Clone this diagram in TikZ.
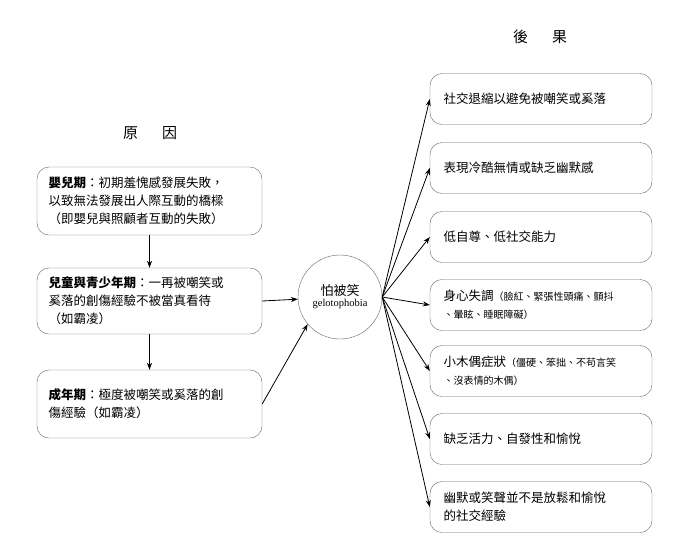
\documentclass[tikz,border=0pt]{standalone}
\usepackage{fontspec}
\setmainfont{Liberation Serif}
\newfontfamily\cjk{Noto Sans CJK TC}
\usetikzlibrary{arrows.meta}
\begin{document}
\begin{tikzpicture}[x=1pt,y=-1pt,
 box/.style={draw=black!60,rounded corners=12pt,inner sep=0pt},
 rbox/.style={box,minimum width=222pt,minimum height=51pt},
 txt/.style={anchor=west,align=left,font=\cjk\fontsize{12.5}{18}\selectfont},
 arr/.style={-{Stealth[length=7pt,width=5pt]},thick}]
\useasboundingbox (0,0) rectangle (700,558);
\node[font=\cjk\fontsize{15}{18}\selectfont] (h1) at (540,37) {後\hspace{1.6em}果};
\node[font=\cjk\fontsize{15}{18}\selectfont] (h2) at (150,133) {原\hspace{1.6em}因};
% left
\node[box,minimum width=225pt,minimum height=68pt] (L1) at (149.5,201) {};
\node[txt] (t1) at (45,201) {\textbf{嬰兒期}：初期羞愧感發展失敗，\\以致無法發展出人際互動的橋樑\\（即嬰兒與照顧者互動的失敗）};
\node[box,minimum width=225pt,minimum height=66pt] (L2) at (149.5,301) {};
\node[txt] (t2) at (45,301) {\textbf{兒童與青少年期}：一再被嘲笑或\\奚落的創傷經驗不被當真看待\\（如霸凌）};
\node[box,minimum width=225pt,minimum height=68pt] (L3) at (149.5,404) {};
\node[txt] (t3) at (45,404) {\textbf{成年期}：極度被嘲笑或奚落的創\\傷經驗（如霸凌）};
\node[draw=black!60,circle,minimum size=84pt,align=center,inner sep=0pt] (C) at (340,297)
 {{\cjk\fontsize{13}{15}\selectfont 怕被笑}\\[-1pt]{\fontsize{10.5}{12}\selectfont gelotophobia}};
\draw[arr] (L1) -- (L2);
\draw[arr] (L2) -- (L3);
\draw[arr] (L2.east) -- (C);
\draw[arr] (L3.east) -- (C.220);
% right
\node[rbox] (R1) at (541,99) {};
\node[txt] (r1) at (440,99) {社交退縮以避免被嘲笑或奚落};
\node[rbox] (R2) at (541,168) {};
\node[txt] (r2) at (440,168) {表現冷酷無情或缺乏幽默感};
\node[rbox] (R3) at (541,237) {};
\node[txt] (r3) at (440,237) {低自尊、低社交能力};
\node[rbox] (R4) at (541,305) {};
\node[txt] (r4) at (440,305) {身心失調{\fontsize{10}{14}\selectfont（臉紅、緊張性頭痛、顫抖}\\{\fontsize{10}{14}\selectfont 、暈眩、睡眠障礙）}};
\node[rbox] (R5) at (541,371) {};
\node[txt] (r5) at (440,371) {小木偶症狀{\fontsize{10}{14}\selectfont（僵硬、笨拙、不苟言笑}\\{\fontsize{10}{14}\selectfont 、沒表情的木偶）}};
\node[rbox] (R6) at (541,439) {};
\node[txt] (r6) at (440,439) {缺乏活力、自發性和愉悅};
\node[rbox] (R7) at (541,507) {};
\node[txt] (r7) at (440,507) {幽默或笑聲並不是放鬆和愉悅\\的社交經驗};
\draw[arr] (C.east) -- (R1.west);
\draw[arr] (C.east) -- (R2.west);
\draw[arr] (C.east) -- (R3.west);
\draw[arr] (C.east) -- (R4.west);
\draw[arr] (C.east) -- (R5.west);
\draw[arr] (C.east) -- (R6.west);
\draw[arr] (C.east) -- (R7.west);
\end{tikzpicture}
\end{document}
